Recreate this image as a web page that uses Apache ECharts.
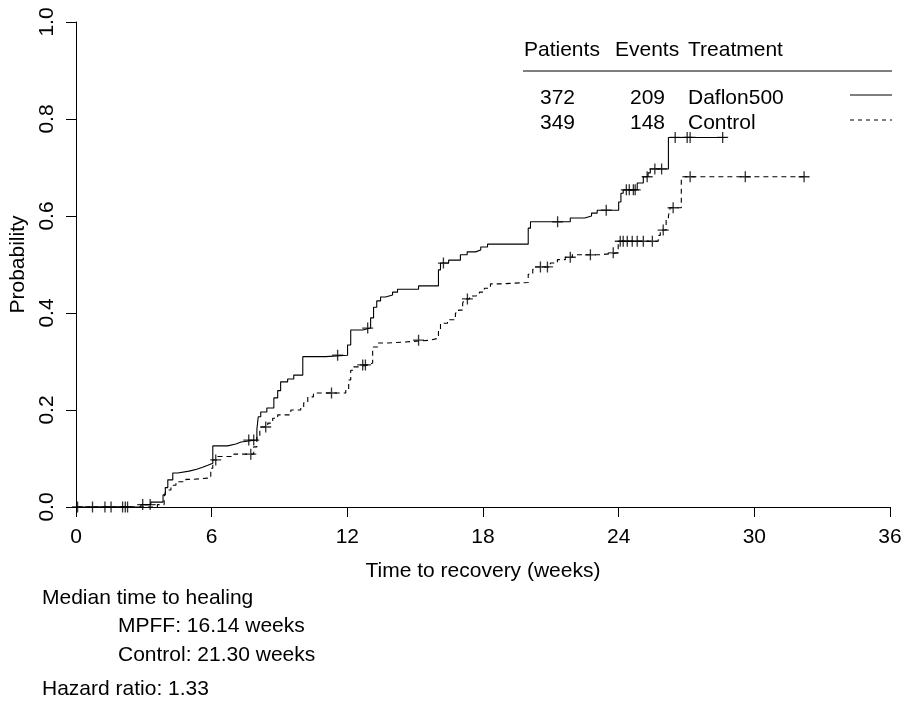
<!DOCTYPE html>
<html><head><meta charset="utf-8">
<script src="https://cdn.jsdelivr.net/npm/echarts@6/dist/echarts.min.js"></script>
<style>html,body{margin:0;padding:0;background:#fff}#c{width:908px;height:702px}</style>
</head><body><div id="c"></div>
<script>
const xTicks = [0, 6, 12, 18, 24, 30, 36];
const yTicks = [0, 0.2, 0.4, 0.6, 0.8, 1.0];

const daflonSteps = [
  [0,0],[2.87,0.005],[3.31,0.01],[3.85,0.025],[3.95,0.04],[4.06,0.056],[4.28,0.07],[4.5,0.074],
  [5.0,0.078],[5.34,0.082],[5.6,0.086],[5.83,0.09],[6.05,0.126],[6.7,0.13],[7.07,0.134],[7.3,0.138],
  [8.0,0.16],[8.06,0.186],[8.17,0.196],[8.44,0.204],[8.75,0.225],[8.92,0.24],[9.05,0.258],[9.36,0.264],
  [9.63,0.272],[10.03,0.31],[11.04,0.313],[12.01,0.334],[12.15,0.365],[12.68,0.369],[13.03,0.39],
  [13.16,0.412],[13.3,0.425],[13.47,0.433],[13.69,0.437],[14.0,0.443],[14.22,0.449],[15.15,0.456],
  [16.03,0.489],[16.12,0.503],[16.48,0.509],[17.0,0.52],[17.3,0.526],[17.67,0.53],[17.9,0.536],
  [18.2,0.542],[20.0,0.575],[20.1,0.588],[21.86,0.596],[22.5,0.6],[22.8,0.606],[23.05,0.612],
  [24.0,0.629],[24.1,0.647],[24.2,0.654],[24.82,0.668],[25.09,0.681],[25.3,0.689],[25.4,0.697],
  [26.2,0.762],[28.8,0.762]
];
const daflonCensored = [
  [0.07,0],[0.73,0],[1.28,0],[1.55,0],[2.06,0],[2.18,0],[2.28,0],[2.95,0.005],[3.28,0.005],
  [7.64,0.138],[7.86,0.138],[11.57,0.313],[12.9,0.369],[16.25,0.503],[21.3,0.588],[23.45,0.612],
  [24.34,0.654],[24.47,0.654],[24.65,0.654],[24.73,0.654],[25.26,0.681],[25.6,0.697],[25.9,0.697],
  [26.5,0.762],[27.03,0.762],[27.16,0.762],[28.6,0.762]
];
const controlSteps = [
  [0,0],[3.6,0.005],[3.9,0.021],[3.98,0.035],[4.2,0.045],[4.42,0.052],[4.86,0.057],[5.2,0.06],
  [5.96,0.08],[6.05,0.097],[6.27,0.104],[6.98,0.109],[7.86,0.124],[8.0,0.145],[8.13,0.159],[8.17,0.165],
  [8.48,0.173],[8.7,0.183],[8.92,0.19],[9.5,0.2],[9.94,0.206],[10.07,0.215],[10.25,0.227],[10.5,0.235],
  [11.93,0.24],[12.06,0.262],[12.15,0.282],[12.28,0.289],[12.5,0.293],[12.94,0.297],[13.12,0.33],
  [13.34,0.338],[13.78,0.341],[14.8,0.344],[15.68,0.348],[16.03,0.365],[16.12,0.379],[16.43,0.386],
  [16.78,0.4],[16.92,0.406],[17.1,0.42],[17.18,0.429],[17.4,0.435],[17.67,0.437],[17.84,0.443],
  [18.06,0.451],[18.33,0.46],[18.77,0.463],[20.0,0.48],[20.2,0.49],[20.3,0.495],[20.98,0.503],
  [21.29,0.51],[21.64,0.515],[21.95,0.52],[23.19,0.524],[23.98,0.548],[25.75,0.56],[25.84,0.571],
  [26.1,0.592],[26.2,0.6],[26.28,0.617],[26.77,0.681],[32.4,0.681]
];
const controlCensored = [
  [6.18,0.097],[7.73,0.109],[8.39,0.165],[11.3,0.235],[12.68,0.293],[12.8,0.293],[15.15,0.344],
  [17.31,0.429],[20.54,0.495],[20.85,0.495],[21.86,0.515],[22.75,0.52],[23.76,0.524],[24.07,0.548],
  [24.2,0.548],[24.38,0.548],[24.6,0.548],[24.82,0.548],[25.09,0.548],[25.49,0.548],[25.97,0.571],
  [26.41,0.617],[27.16,0.681],[29.6,0.681],[32.2,0.681]
];

const legendHeaders = ['Patients', 'Events', 'Treatment'];
const legendPatients = [372, 349];
const legendEvents = [209, 148];
const legendTreatments = ['Daflon500', 'Control'];
const noteLines = ['Median time to healing', 'MPFF: 16.14 weeks', 'Control: 21.30 weeks', 'Hazard ratio: 1.33'];

const FONT = 'Liberation Sans, Arial, Helvetica, sans-serif';
const FS = 21;
const plusPath = 'path://M-0.12,-1 L0.12,-1 L0.12,-0.12 L1,-0.12 L1,0.12 L0.12,0.12 L0.12,1 L-0.12,1 L-0.12,0.12 L-1,0.12 L-1,-0.12 L-0.12,-0.12 Z';

const txt = (x, y, s, align) => ({
  type: 'text', x: x, y: y, silent: true,
  style: { text: String(s), fill: '#000', font: FS + 'px ' + FONT, textAlign: align || 'left', textVerticalAlign: 'middle' }
});

const graphic = [];
const headerX = [524, 615, 688];
legendHeaders.forEach((h, i) => graphic.push(txt(headerX[i], 50, h)));
graphic.push({ type: 'line', silent: true, shape: { x1: 523, y1: 71, x2: 892, y2: 71 }, style: { stroke: '#000', lineWidth: 1 } });
const rowY = [98, 123];
legendPatients.forEach((v, i) => graphic.push(txt(557.5, rowY[i], v, 'center')));
legendEvents.forEach((v, i) => graphic.push(txt(647.5, rowY[i], v, 'center')));
legendTreatments.forEach((v, i) => graphic.push(txt(688, rowY[i], v)));
graphic.push({ type: 'line', silent: true, shape: { x1: 850, y1: 95, x2: 892, y2: 95 }, style: { stroke: '#000', lineWidth: 1 } });
graphic.push({ type: 'line', silent: true, shape: { x1: 850, y1: 120, x2: 892, y2: 120 }, style: { stroke: '#000', lineWidth: 1, lineDash: [4, 4] } });
const noteX = [42, 118, 118, 42];
const noteY = [598, 626, 655, 689];
noteLines.forEach((s, i) => graphic.push(txt(noteX[i], noteY[i], s)));

const chart = echarts.init(document.getElementById('c'), null, { renderer: 'canvas' });
chart.setOption({
  animation: false,
  backgroundColor: '#fff',
  textStyle: { fontFamily: FONT },
  grid: { left: 76, right: 18, top: 22, bottom: 195, containLabel: false },
  xAxis: {
    type: 'value', min: xTicks[0], max: xTicks[xTicks.length - 1], interval: 6,
    axisLine: { show: true, lineStyle: { color: '#000', width: 1 } },
    axisTick: { show: true, inside: false, length: 10, lineStyle: { color: '#000', width: 1 } },
    axisLabel: { color: '#000', fontSize: FS, fontFamily: FONT, margin: 20 },
    splitLine: { show: false },
    name: 'Time to recovery (weeks)', nameLocation: 'middle', nameGap: 54,
    nameTextStyle: { color: '#000', fontSize: FS, fontFamily: FONT }
  },
  yAxis: {
    type: 'value', min: yTicks[0], max: yTicks[yTicks.length - 1], interval: 0.2,
    axisLine: { show: true, lineStyle: { color: '#000', width: 1 } },
    axisTick: { show: true, inside: false, length: 10, lineStyle: { color: '#000', width: 1 } },
    axisLabel: { color: '#000', fontSize: FS, fontFamily: FONT, margin: 18, rotate: 90, formatter: v => v.toFixed(1) },
    splitLine: { show: false },
    name: 'Probability', nameLocation: 'middle', nameGap: 40,
    nameTextStyle: { color: '#000', fontSize: FS, fontFamily: FONT }
  },
  series: [
    { name: 'Daflon500', type: 'line', step: 'end', data: daflonSteps, showSymbol: false, silent: true,
      lineStyle: { color: '#000', width: 1.1, type: 'solid' } },
    { name: 'Control', type: 'line', step: 'end', data: controlSteps, showSymbol: false, silent: true,
      lineStyle: { color: '#000', width: 1.1, type: [5, 4] } },
    { name: 'Daflon500 censored', type: 'scatter', data: daflonCensored, symbol: plusPath, symbolSize: 11, silent: true,
      itemStyle: { color: '#000' } },
    { name: 'Control censored', type: 'scatter', data: controlCensored, symbol: plusPath, symbolSize: 11, silent: true,
      itemStyle: { color: '#000' } }
  ],
  graphic: graphic
});
</script>
</body></html>
